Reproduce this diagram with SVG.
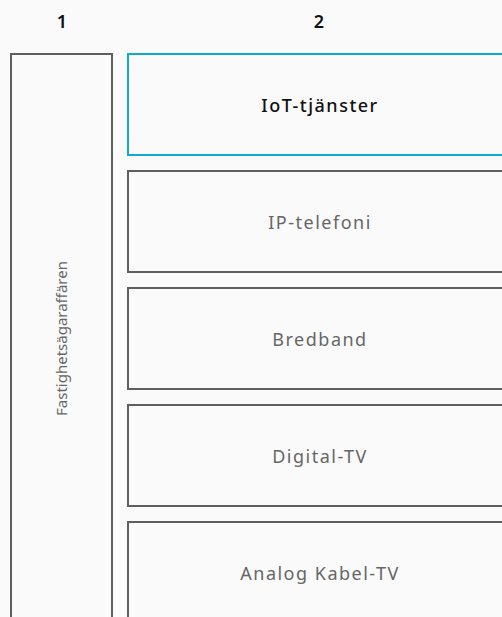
<svg xmlns="http://www.w3.org/2000/svg" width="502" height="617" viewBox="0 0 502 617">
<style>
.bg{fill:#fafafa}
.box{fill:#fafafa;stroke:#5f5f5f;stroke-width:2}
.hl{fill:#fafafa;stroke:#0eaccb;stroke-width:2}
.t{font-family:"Noto Sans","Open Sans",sans-serif;font-size:18px;fill:#666;text-anchor:middle;letter-spacing:1.5px}
.dark{fill:#111;font-weight:500}
.v{font-family:"Noto Sans","Open Sans",sans-serif;font-size:15px;fill:#666;text-anchor:middle;letter-spacing:0px}
.num{font-family:"Noto Sans","Open Sans",sans-serif;font-size:18px;font-weight:600;fill:#111;text-anchor:middle}
</style>
<rect class="bg" x="0" y="0" width="502" height="617"/>
<g id="col-labels">
<text class="num" x="62" y="28.3">1</text>
<text class="num" x="319" y="28.3">2</text>
</g>
<g id="fastighet">
<rect class="box" x="11" y="54" width="101" height="580"/>
<text class="v" transform="translate(67 338.5) rotate(-90)">Fastighetsägaraffären</text>
</g>
<g id="iot">
<rect class="hl" x="128" y="54" width="390" height="101"/>
<text class="t dark" x="320" y="111.5">IoT-tjänster</text>
</g>
<g id="ip">
<rect class="box" x="128" y="171" width="390" height="101"/>
<text class="t" x="320" y="228.5">IP-telefoni</text>
</g>
<g id="bredband">
<rect class="box" x="128" y="288" width="390" height="101"/>
<text class="t" x="320" y="345.5">Bredband</text>
</g>
<g id="digital">
<rect class="box" x="128" y="405" width="390" height="101"/>
<text class="t" x="320" y="462.5">Digital-TV</text>
</g>
<g id="analog">
<rect class="box" x="128" y="522" width="390" height="101"/>
<text class="t" x="320" y="579.5">Analog Kabel-TV</text>
</g>
<g id="connectors"/>
</svg>
